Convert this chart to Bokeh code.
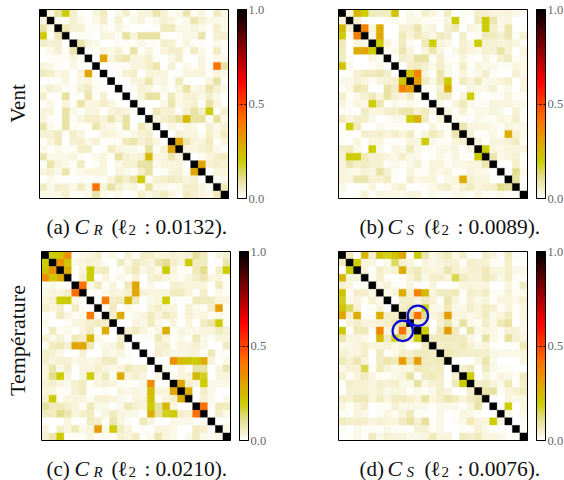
from bokeh.embed import file_html
from bokeh.resources import INLINE
from bokeh.plotting import figure
from bokeh.layouts import column, row
from bokeh.models import ColumnDataSource, ColorBar, Label, LinearColorMapper, FixedTicker, Range1d
import numpy as np

N = 25
# upper triangles, percent of correlation, row i holds columns i+1..24
A_UPPER = [
[3,9,20,5,1,0,3,6,0,2,5,1,3,3,8,4,1,2,8,1,3,0,6,2],
[2,1,4,2,1,2,5,1,4,0,2,3,1,2,4,3,1,2,8,4,2,2,2],
[7,4,4,1,1,2,1,3,1,0,0,0,1,6,7,2,2,3,2,1,5,2],
[0,1,1,0,3,3,1,10,3,9,9,9,1,0,1,2,2,8,0,4,5],
[8,3,2,0,0,1,1,1,2,1,1,5,4,1,3,1,1,0,2,1],
[1,1,3,2,4,1,9,1,3,1,3,5,5,1,6,2,1,6,1],
[0,30,3,6,8,3,3,5,1,0,2,5,0,0,3,0,2,2],
[0,1,1,1,3,3,5,8,0,4,0,2,1,3,1,42,9],
[0,1,4,5,0,3,3,3,1,1,3,3,3,1,3,2],
[0,0,3,3,8,2,3,1,6,1,0,0,3,9,1],
[0,1,4,3,1,2,1,3,9,2,3,8,4,2],
[0,3,9,9,1,7,2,4,4,2,5,2,0],
[1,0,0,2,8,2,3,4,1,9,3,1],
[0,7,4,4,1,4,9,5,20,1,5],
[3,5,6,10,25,9,10,1,10,2],
[0,3,1,3,2,0,4,2,4],
[0,4,3,3,1,5,2,6],
[30,8,3,3,6,1,3],
[3,3,4,5,2,1],
[0,1,3,5,6],
[30,4,5,4],
[0,3,3],
[1,2],
[7],
]
B_UPPER = [
[3,25,20,7,6,6,22,0,2,1,5,3,1,6,0,1,1,5,4,3,3,3,2,1],
[4,1,0,0,1,2,1,2,2,1,1,1,3,20,1,0,6,20,8,2,3,0,0],
[38,3,28,0,0,4,4,8,2,3,0,5,7,0,3,2,20,5,2,8,0,1],
[2,30,0,0,7,3,7,4,2,6,5,0,5,0,1,7,6,4,8,1,4],
[20,3,1,6,1,0,7,20,3,2,0,4,3,20,4,4,3,4,3,1],
[1,2,8,3,0,3,8,3,0,2,5,3,2,4,4,9,4,0,3],
[0,5,4,9,9,1,5,1,1,3,1,0,3,1,4,6,1,2],
[0,5,6,4,2,5,2,1,5,1,3,2,2,1,1,3,2],
[22,38,3,1,8,2,1,3,1,2,5,1,0,0,4,2],
[32,6,2,8,20,1,6,3,7,2,2,3,5,0,3],
[1,1,4,28,1,1,3,2,2,4,1,2,0,3],
[0,6,6,0,3,20,1,0,1,1,3,1,1],
[2,0,3,7,2,1,1,3,3,3,2,2],
[3,1,4,1,2,2,3,2,0,4,1],
[1,1,1,2,1,1,3,2,5,1],
[8,3,3,3,2,1,3,2,2],
[4,0,1,2,1,28,4,2],
[3,0,3,3,4,6,1],
[20,3,2,3,3,3],
[8,2,3,4,1],
[0,0,5,1],
[0,11,2],
[9,1],
[1],
]
C_UPPER = [
[20,22,35,1,2,3,5,1,2,0,4,1,5,5,3,3,4,3,4,10,6,0,3,4],
[34,22,2,3,4,3,1,0,6,2,6,4,3,8,11,5,3,20,6,6,0,0,8],
[28,1,3,20,5,6,0,1,4,7,2,4,2,20,3,1,1,7,11,0,5,20],
[0,5,20,0,3,1,2,1,4,0,4,5,3,2,1,3,5,8,3,3,1],
[42,2,6,1,3,0,7,30,0,2,0,0,4,4,3,3,3,0,7,1],
[1,1,2,3,3,5,30,4,3,3,3,6,6,3,1,5,0,2,1],
[0,40,5,6,25,7,0,2,3,20,1,0,1,7,6,6,3,3],
[1,6,0,2,1,0,3,5,3,3,0,4,2,1,5,32,1],
[5,28,1,2,3,6,3,7,4,1,4,2,3,1,2,1],
[0,0,3,2,6,2,1,3,0,3,0,6,8,20,1],
[4,6,3,1,3,28,1,3,2,2,3,3,6,4],
[0,1,1,7,3,1,2,1,7,2,1,3,3],
[0,0,4,5,1,3,3,4,2,0,0,6],
[0,5,3,2,2,3,3,0,7,1,1],
[0,0,35,24,22,20,28,3,0,2],
[2,0,3,1,9,9,0,3,8],
[1,3,3,25,18,0,3,3],
[30,5,3,20,2,2,2],
[28,0,5,2,0,0],
[0,4,2,0,2],
[42,1,6,6],
[1,5,2],
[0,1],
[2],
]
D_UPPER = [
[6,0,25,4,22,18,22,30,0,20,8,2,4,7,2,5,1,0,5,3,1,6,1,0],
[20,3,3,0,2,14,4,3,0,3,2,3,4,4,1,5,4,4,1,1,5,0,1],
[3,0,5,3,4,28,5,7,3,3,3,8,4,3,4,4,7,3,3,5,2,2],
[1,5,1,0,1,3,7,2,5,5,3,15,6,4,4,7,5,2,5,1,1],
[2,4,1,1,3,1,0,3,0,0,1,3,3,3,3,0,0,3,1,6],
[2,3,28,4,38,25,3,6,6,7,1,5,4,6,1,1,4,1,2],
[0,5,5,3,6,4,1,8,3,1,4,2,3,1,3,3,2,4],
[5,8,4,18,2,2,7,2,2,5,3,6,4,1,3,1,3],
[10,42,11,3,5,32,3,3,2,3,6,2,3,6,1,3],
[6,6,0,4,8,2,9,2,1,5,2,7,9,0,2],
[20,1,7,32,7,1,9,2,3,2,1,4,4,2],
[6,6,6,6,6,2,1,9,2,1,10,4,3],
[5,6,5,7,4,2,3,1,0,1,1,7],
[7,6,5,5,5,5,2,2,2,2,3],
[0,0,0,3,8,2,0,0,0,3],
[4,7,0,6,2,1,1,0,0],
[20,0,3,1,3,2,1,6],
[5,6,3,2,7,1,5],
[8,9,1,3,4,6],
[0,0,3,2,3],
[0,20,0,3],
[2,0,2],
[0,1],
[1],
]
CAPTION_LETTERS = ["(a)", "(b)", "(c)", "(d)"]
CAPTION_SUBS = ["R", "S", "R", "S"]
CAPTION_VALUES = ["0.0132", "0.0089", "0.0210", "0.0076"]
ROW_LABELS = ["Vent", "Température"]
CBAR_TICKS = [0.0, 0.5, 1.0]
CMAP_STOPS = [0.0, 0.03, 0.1, 0.2, 0.3, 0.42, 0.62, 0.82, 1.0]
CMAP_COLORS = ["#ffffff", "#f8f4da", "#e6e09a", "#cccc00", "#e0a400", "#ff7000", "#ff0000", "#7a0000", "#000000"]
CIRCLES_D = [(10.5, 8.5), (8.5, 10.5)]
SERIF = "Liberation Serif"
SIZE = 189


def hex_rgb(h):
    return [int(h[i:i + 2], 16) for i in (1, 3, 5)]


rgb = np.array([hex_rgb(c) for c in CMAP_COLORS], float)
t = np.linspace(0, 1, 256)
palette = ["#%02x%02x%02x" % tuple(int(round(np.interp(v, CMAP_STOPS, rgb[:, k]))) for k in range(3)) for v in t]
mapper = LinearColorMapper(palette=palette, low=0, high=1)


def panel(upper, left, top, w, h, idx, cap_x, base, circles=None, row_label=None, row_y=0, row_size="21px"):
    m = np.eye(N)
    for i, r in enumerate(upper):
        for j, v in enumerate(r):
            m[i, i + 1 + j] = m[i + 1 + j, i] = v / 100
    xs, ys = np.meshgrid(np.arange(N) + 0.5, np.arange(N) + 0.5)
    src = ColumnDataSource(dict(x=xs.ravel(), y=ys.ravel(), v=m.ravel()))
    u = SIZE / N
    p = figure(width=w, height=h, output_backend="svg", toolbar_location=None,
               x_range=Range1d(-left / u, (w - left) / u), y_range=Range1d((h - top) / u, -top / u),
               min_border=0, min_border_left=0, min_border_right=0, min_border_top=0, min_border_bottom=0)
    p.axis.visible = False
    p.grid.visible = False
    p.outline_line_color = None
    p.background_fill_color = "#ffffff"
    cm = {"field": "v", "transform": mapper}
    p.rect("x", "y", 1, 1, source=src, fill_color=cm, line_color=cm, line_width=0.4)
    p.rect([N / 2], [N / 2], N, N, fill_alpha=0, line_color="#000000", line_width=1)
    if circles:
        cx, cy = zip(*circles)
        p.circle(list(cx), list(cy), radius=1.35, fill_alpha=0, line_color="#0a0ad8", line_width=2.2)
    cb = ColorBar(color_mapper=mapper, width=9, height=SIZE, padding=0, margin=0,
                  location=(left + SIZE + 9, h - top - SIZE),
                  ticker=FixedTicker(ticks=CBAR_TICKS), major_label_overrides={0.0: "0.0", 0.5: "0.5", 1.0: "1.0"},
                  major_label_text_font=SERIF, major_label_text_font_size="12.5px", major_label_text_color="#666666",
                  major_tick_line_color="#000000", major_tick_in=9, major_tick_out=0, major_tick_line_dash="2 2",
                  bar_line_color="#000000", bar_line_width=1, border_line_color=None, background_fill_color=None,
                  label_standoff=2)
    p.add_layout(cb)
    f = dict(x_units="canvas", y_units="canvas", text_font=SERIF, text_baseline="alphabetic", text_color="#111111")
    p.add_layout(Label(x=cap_x, y=base, text=CAPTION_LETTERS[idx], text_font_size="21px", **f))
    p.add_layout(Label(x=cap_x + 28, y=base, text="C", text_font_size="22px", text_font_style="italic", **f))
    p.add_layout(Label(x=cap_x + 47, y=base + 3, text=CAPTION_SUBS[idx], text_font_size="15px", text_font_style="italic", **f))
    p.add_layout(Label(x=cap_x + 65, y=base, text="(", text_font_size="21px", **f))
    p.add_layout(Label(x=cap_x + 71, y=base, text="ℓ", text_font_size="21px", **f))
    p.add_layout(Label(x=cap_x + 82, y=base + 3, text="2", text_font_size="15px", **f))
    p.add_layout(Label(x=cap_x + 98, y=base, text=":", text_font_size="21px", **f))
    p.add_layout(Label(x=cap_x + 109, y=base, text=CAPTION_VALUES[idx] + ").", text_font_size="21.5px", **f))
    if row_label:
        p.add_layout(Label(x=17, y=row_y, text=row_label, angle=np.pi / 2, text_font_size=row_size,
                           text_align="center", x_units="canvas", y_units="canvas", text_font=SERIF,
                           text_baseline="middle", text_color="#111111"))
    return p


pa = panel(A_UPPER, 39, 9, 282, 240, 0, 46, 226, row_label=ROW_LABELS[0], row_y=103, row_size="21px")
pb = panel(B_UPPER, 56, 9, 282, 240, 1, 77, 226)
pc = panel(C_UPPER, 41, 11, 282, 240, 2, 46, 228, row_label=ROW_LABELS[1], row_y=100, row_size="22px")
pd_ = panel(D_UPPER, 56, 11, 282, 240, 3, 77, 228, circles=CIRCLES_D)
layout = column(row(pa, pb, spacing=0), row(pc, pd_, spacing=0), spacing=0)
open("out.html", "w").write(file_html(layout, INLINE))
